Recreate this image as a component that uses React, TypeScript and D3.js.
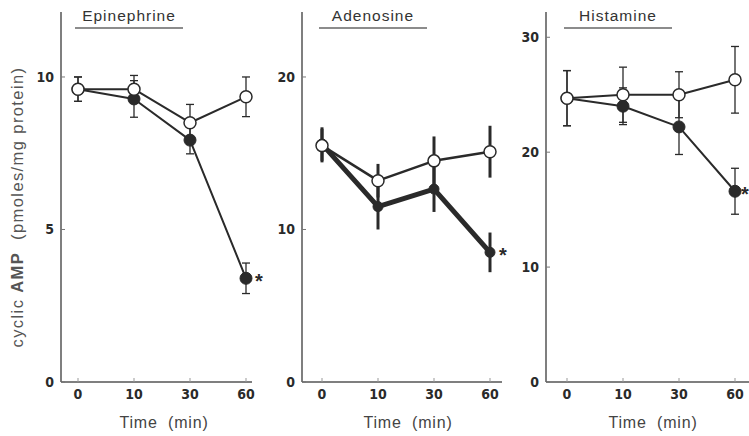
import React from "react";
import * as d3 from "d3";

const categories = ["0", "10", "30", "60"];
const panelNames = ["Epinephrine", "Adenosine", "Histamine"];
const yTicks = [[0, 5, 10], [0, 10, 20], [0, 10, 20, 30]];
const yMaxes = [12.13, 24.26, 32.2];

const openValues = [
  [9.6, 9.6, 8.5, 9.35],
  [15.5, 13.2, 14.5, 15.1],
  [24.7, 25.0, 25.0, 26.3],
];
const openErrors = [
  [0.4, 0.45, 0.6, 0.65],
  [1.1, 1.1, 1.6, 1.7],
  [2.4, 2.4, 2.0, 2.9],
];
const filledValues = [
  [9.6, 9.28, 7.93, 3.4],
  [15.6, 11.5, 12.65, 8.5],
  [24.7, 24.0, 22.2, 16.6],
];
const filledErrors = [
  [0.4, 0.6, 0.45, 0.5],
  [1.1, 1.5, 1.5, 1.3],
  [2.4, 1.6, 2.4, 2.0],
];

const layout = [
  { axisX: 61, xStart: 78, xEnd: 246, axisEnd: 252, lineW: 2, fillW: 2, caps: true, starDx: 9 },
  { axisX: 302, xStart: 322, xEnd: 490, axisEnd: 502, lineW: 2.5, fillW: 5, caps: false, starDx: 9 },
  { axisX: 546, xStart: 567, xEnd: 735, axisEnd: 749, lineW: 2, fillW: 2, caps: true, starDx: 6 },
];

const plotTop = 12;
const plotBottom = 382;
const ink = "#2a2a2a";
const numFont = "'DejaVu Sans Condensed', 'DejaVu Sans', sans-serif";
const textFont = "Arial, 'Liberation Sans', sans-serif";

function Panel({ i }: { i: number }) {
  const L = layout[i];
  const x = d3.scalePoint<string>().domain(categories).range([L.xStart, L.xEnd]).padding(0);
  const y = d3.scaleLinear().domain([0, yMaxes[i]]).range([plotBottom, plotTop]);
  const line = d3
    .line<number>()
    .x((_, k) => x(categories[k]) as number)
    .y((v) => y(v));
  const open = openValues[i];
  const filled = filledValues[i];
  const titleCx = L.xStart + 51;
  const lastX = x(categories[3]) as number;
  const errW = i === 1 ? 3 : 1.3;
  const bar = (key: string, cx: number, v: number, e: number) => (
    <g key={key} stroke={ink} strokeWidth={errW}>
      <line x1={cx} x2={cx} y1={y(v - e)} y2={y(v + e)} />
      {L.caps && <line x1={cx - 4} x2={cx + 4} y1={y(v - e)} y2={y(v - e)} />}
      {L.caps && <line x1={cx - 4} x2={cx + 4} y1={y(v + e)} y2={y(v + e)} />}
    </g>
  );
  return (
    <g>
      <line x1={L.axisX} x2={L.axisX} y1={plotTop} y2={plotBottom} stroke="#555" strokeWidth={1.5} />
      <line x1={L.axisX} x2={L.axisEnd} y1={plotBottom} y2={plotBottom} stroke="#555" strokeWidth={1.5} />
      {yTicks[i].map((t) => (
        <g key={t}>
          <line x1={L.axisX} x2={L.axisX + 4} y1={y(t)} y2={y(t)} stroke="#777" strokeWidth={1} />
          <text
            x={L.axisX - 7}
            y={y(t) + 5}
            textAnchor="end"
            fontFamily={numFont}
            fontWeight="bold"
            fontSize={14}
            fill={ink}
          >
            {t}
          </text>
        </g>
      ))}
      {categories.map((c) => (
        <g key={c}>
          <line x1={x(c)} x2={x(c)} y1={plotBottom} y2={plotBottom - 4} stroke="#999" strokeWidth={1} />
          <text
            x={x(c)}
            y={399}
            textAnchor="middle"
            fontFamily={numFont}
            fontWeight="bold"
            fontSize={14}
            fill={ink}
          >
            {c}
          </text>
        </g>
      ))}
      <text
        x={(L.xStart + L.xEnd) / 2 + 2}
        y={428}
        textAnchor="middle"
        fontFamily={textFont}
        fontSize={16}
        letterSpacing={0.8}
        fill="#444"
        xmlSpace="preserve"
      >
        {"Time  (min)"}
      </text>
      <text
        x={titleCx}
        y={21}
        textAnchor="middle"
        fontFamily={textFont}
        fontSize={15.5}
        letterSpacing={1}
        fill="#333"
      >
        {panelNames[i]}
      </text>
      <line x1={titleCx - 54} x2={titleCx + 54} y1={28} y2={28} stroke="#666" strokeWidth={1.5} />
      {filled.map((v, k) => bar("fe" + k, x(categories[k]) as number, v, filledErrors[i][k]))}
      {open.map((v, k) => bar("oe" + k, x(categories[k]) as number, v, openErrors[i][k]))}
      <path d={line(filled) || ""} fill="none" stroke={ink} strokeWidth={L.fillW} strokeLinejoin="round" />
      <path d={line(open) || ""} fill="none" stroke={ink} strokeWidth={L.lineW} strokeLinejoin="round" />
      {filled.map((v, k) => (
        <circle key={"f" + k} cx={x(categories[k])} cy={y(v)} r={i === 1 ? 5 : 6} fill={ink} stroke={ink} strokeWidth={1} />
      ))}
      {open.map((v, k) => (
        <circle key={"o" + k} cx={x(categories[k])} cy={y(v)} r={6} fill="#fff" stroke={ink} strokeWidth={1.5} />
      ))}
      <text
        x={lastX + L.starDx}
        y={y(filled[3]) + 10}
        fontFamily={textFont}
        fontWeight="bold"
        fontSize={20}
        fill={ink}
      >
        *
      </text>
    </g>
  );
}

export default function App() {
  return (
    <svg
      width={749}
      height={436}
      style={{ position: "absolute", left: 0, top: 0, background: "#fff" }}
    >
      <rect width={749} height={436} fill="#fff" />
      <text
        transform="translate(23,207) rotate(-90)"
        textAnchor="middle"
        fontFamily={textFont}
        fontSize={16.5}
        letterSpacing={1.4}
        fill="#555"
        xmlSpace="preserve"
      >
        cyclic <tspan fontWeight="bold">AMP</tspan>{"  (pmoles/mg protein)"}
      </text>
      {[0, 1, 2].map((i) => (
        <Panel key={i} i={i} />
      ))}
    </svg>
  );
}
